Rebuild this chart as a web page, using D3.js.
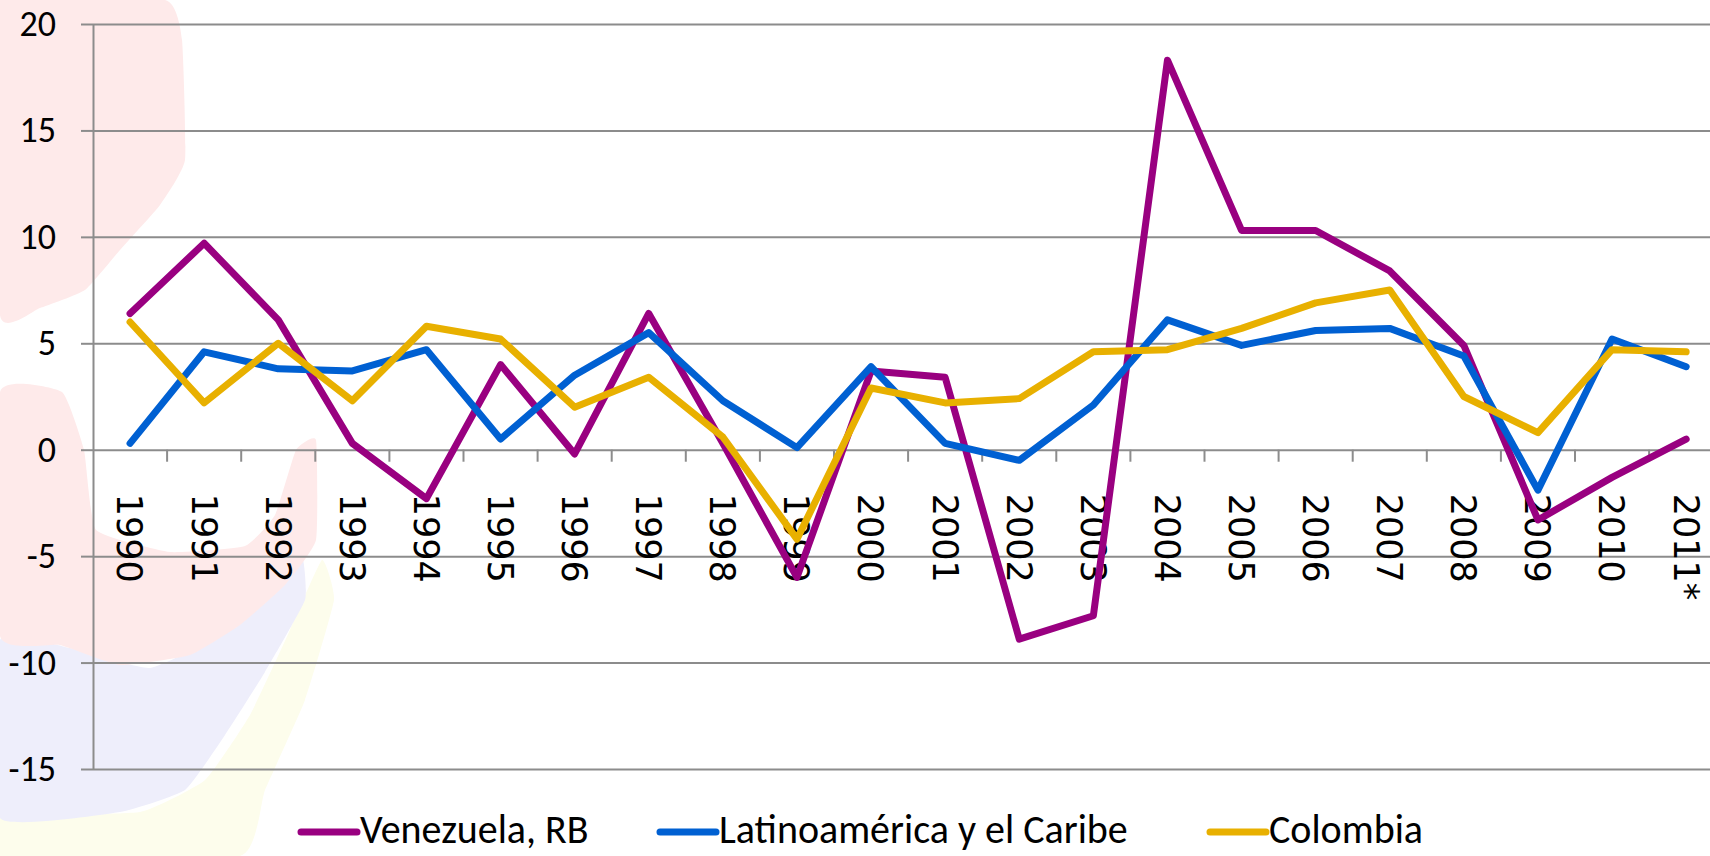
<!DOCTYPE html>
<html>
<head>
<meta charset="utf-8">
<title>Crecimiento del PIB</title>
<script src="https://d3js.org/d3.v7.min.js"></script>
<style>
  body { margin: 0; background: #fff; }
  svg { display: block; }
</style>
</head>
<body>
<div id="chart"></div>
<script>
// data (annual % growth)
const years = ["1990","1991","1992","1993","1994","1995","1996","1997","1998","1999","2000",
               "2001","2002","2003","2004","2005","2006","2007","2008","2009","2010","2011*"];
const venezuela = [6.4, 9.7, 6.1, 0.3, -2.3, 4.0, -0.2, 6.4, 0.3, -6.0, 3.7, 3.4, -8.9, -7.8, 18.3, 10.3, 10.3, 8.4, 4.9, -3.3, -1.3, 0.5];
const latam     = [0.3, 4.6, 3.8, 3.7, 4.7, 0.5, 3.5, 5.5, 2.3, 0.1, 3.9, 0.3, -0.5, 2.1, 6.1, 4.9, 5.6, 5.7, 4.4, -1.9, 5.2, 3.9];
const colombia  = [6.0, 2.2, 5.0, 2.3, 5.8, 5.2, 2.0, 3.4, 0.6, -4.2, 2.9, 2.2, 2.4, 4.6, 4.7, 5.7, 6.9, 7.5, 2.5, 0.8, 4.7, 4.6];
const seriesNames = ["Venezuela, RB", "Latinoamérica y el Caribe", "Colombia"];
const seriesColors = ["#990080", "#0060d2", "#e8b000"];
const yTicks = [-15, -10, -5, 0, 5, 10, 15, 20];
const title = "Crecimiento del PIB por economía y zona (tasa de variación anual en %)";

const width = 1710, height = 856;
const svg = d3.select("#chart").append("svg")
  .attr("width", width).attr("height", height)
  .style("background", "#fff");

// faded flag watermark at the left
const blob = d3.line().curve(d3.curveCardinalClosed.tension(0.6));
const wm = svg.append("g").attr("id", "watermark");
wm.append("path").attr("fill", "#fdfdec")
  .attr("d", blob([[0,818],[140,812],[205,780],[250,715],[290,630],[322,560],[334,600],[305,700],[265,790],[240,856],[0,856]]));
wm.append("path").attr("fill", "#eeeefb")
  .attr("d", blob([[0,640],[70,648],[150,668],[225,632],[275,572],[302,556],[305,600],[265,672],[225,735],[185,790],[120,812],[0,818]]));
wm.append("path").attr("fill", "#feeaea")
  .attr("d", blob([[0,0],[165,0],[182,40],[185,160],[160,205],[120,250],[85,290],[40,308],[0,315]]));
wm.append("path").attr("fill", "#feeaea")
  .attr("d", blob([[0,392],[62,392],[84,450],[96,530],[170,552],[245,546],[275,515],[296,450],[316,440],[316,540],[285,585],[240,625],[190,655],[120,665],[60,645],[0,636]]));

const x = d3.scaleBand().domain(years).range([93, 93 + 74.1 * years.length]);
const y = d3.scaleLinear().domain([-15, 20]).range([769, 24]);
const bw = x.bandwidth();

// horizontal gridlines
svg.append("g")
  .attr("transform", "translate(93,0)")
  .call(d3.axisLeft(y).tickValues(yTicks).tickSize(-(width - 93)).tickFormat(""))
  .call(g => g.select(".domain").remove())
  .call(g => g.selectAll("line").attr("stroke", "#8c8c8c").attr("stroke-width", 2));

// y axis with labels
svg.append("g")
  .attr("transform", "translate(93,0)")
  .call(d3.axisLeft(y).tickValues(yTicks).tickSize(12).tickSizeOuter(0).tickPadding(25)
    .tickFormat(d => String(d)))
  .call(g => g.select(".domain").attr("stroke", "#8c8c8c").attr("stroke-width", 2))
  .call(g => g.selectAll("line").attr("stroke", "#8c8c8c").attr("stroke-width", 2))
  .call(g => g.selectAll("text").attr("fill", "#000")
    .style("font-family", "Calibri, Carlito, Lato, sans-serif").style("font-size", "36px"));

// category ticks below the zero line
const y0 = y(0);
svg.append("g").selectAll("line")
  .data(years.slice(1))
  .join("line")
  .attr("x1", d => x(d)).attr("x2", d => x(d))
  .attr("y1", y0).attr("y2", y0 + 12)
  .attr("stroke", "#8c8c8c").attr("stroke-width", 2);

// rotated year labels
svg.append("g").selectAll("text")
  .data(years)
  .join("text")
  .attr("transform", d => `translate(${x(d) + bw / 2},${y0 + 44}) rotate(90)`)
  .attr("dy", "0.36em")
  .attr("text-anchor", "start")
  .style("font-family", "'DejaVu Sans', sans-serif")
  .style("font-size", "35px")
  .attr("fill", "#000")
  .text(d => d);

// series lines
const line = d3.line()
  .x((d, i) => x(years[i]) + bw / 2)
  .y(d => y(d));

[venezuela, latam, colombia].forEach((vals, k) => {
  svg.append("path")
    .datum(vals)
    .attr("fill", "none")
    .attr("stroke", seriesColors[k])
    .attr("stroke-width", 7)
    .attr("stroke-linejoin", "round")
    .attr("stroke-linecap", "round")
    .attr("d", line);
});

// legend
const legendX = [301, 660, 1210];
const legend = svg.append("g").selectAll("g")
  .data(seriesNames)
  .join("g")
  .attr("transform", (d, i) => `translate(${legendX[i]},832)`);
legend.append("line")
  .attr("x1", 0).attr("x2", 56)
  .attr("stroke", (d, i) => seriesColors[i])
  .attr("stroke-width", 7)
  .attr("stroke-linecap", "round");
legend.append("text")
  .attr("x", 59).attr("y", 11)
  .style("font-family", "Calibri, Carlito, Lato, sans-serif")
  .style("font-size", "40px")
  .attr("fill", "#000")
  .text(d => d);

// title, cut off at the top edge
const t = svg.append("text")
  .attr("y", -6)
  .style("font-family", "Calibri, Carlito, Lato, sans-serif")
  .style("font-size", "34px")
  .style("font-weight", "bold")
  .attr("fill", "#cc0000")
  .text(title);
const pIdx = title.indexOf("por");
t.attr("x", 666 - t.node().getSubStringLength(0, pIdx));
</script>
</body>
</html>
